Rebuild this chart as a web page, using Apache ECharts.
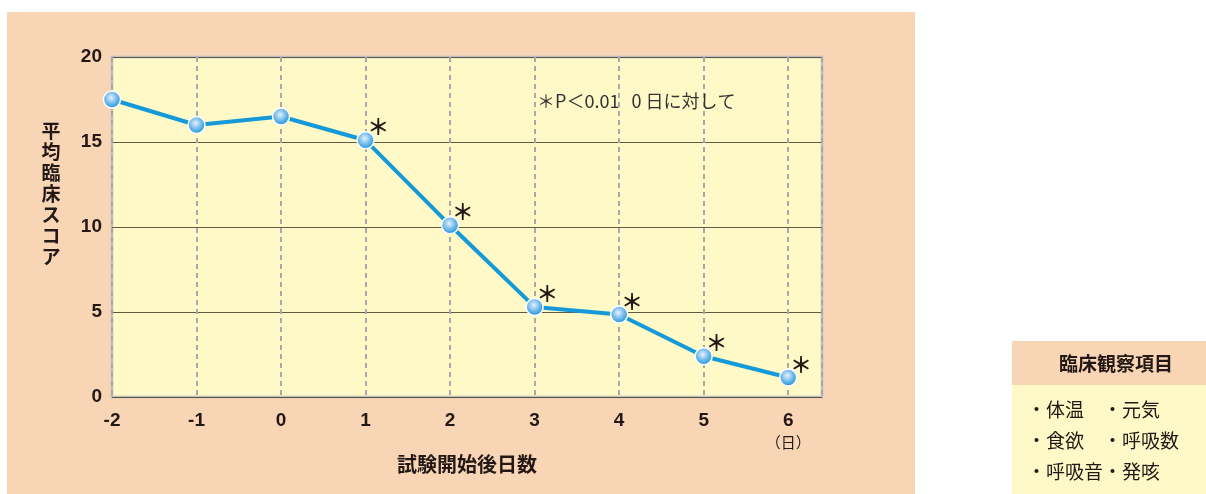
<!DOCTYPE html>
<html><head><meta charset="utf-8">
<script src="https://cdn.jsdelivr.net/npm/echarts@6/dist/echarts.min.js"></script>
<style>html,body{margin:0;padding:0;background:#fff}#c{width:1206px;height:494px}</style>
</head><body><div id="c"></div>
<script>
const days = [-2, -1, 0, 1, 2, 3, 4, 5, 6];
const meanScore = [17.5, 16.0, 16.5, 15.1, 10.1, 5.3, 4.85, 2.4, 1.15];
const significant = [false, false, false, true, true, true, true, true, true];
const yTicks = [0, 5, 10, 15, 20];
const yAxisTitle = '平均臨床スコア';
const xAxisTitle = '試験開始後日数';
const legendTitle = '臨床観察項目';
const legendItems = [['・体温', '・元気'], ['・食欲', '・呼吸数'], ['・呼吸音・発咳', '']];
const noteText = '＊P＜0.01   0 日に対して';

const FONT = '"Noto Sans CJK JP", "Noto Sans", sans-serif';
const NUMFONT = '"Liberation Sans", Arial, sans-serif';
const INK = '#231815';
const chart = echarts.init(document.getElementById('c'));

const legendChildren = [
  {type:'rect', shape:{x:1012,y:341,width:194,height:44}, style:{fill:'#F8D5B4'}},
  {type:'rect', shape:{x:1012,y:385,width:194,height:109}, style:{fill:'#FEF9C7'}},
  {type:'text', x:1116, y:364, style:{text:legendTitle, font:'bold 19px '+FONT, fill:INK, textAlign:'center', textVerticalAlign:'middle'}}
];
legendItems.forEach((row, i) => {
  row.forEach((t, j) => {
    if (!t) return;
    legendChildren.push({type:'text', x: j === 0 ? 1027 : 1103, y: 410 + i*31,
      style:{text:t, font:'19px '+FONT, fill:INK, textVerticalAlign:'middle'}});
  });
});

chart.setOption({
  animation:false,
  graphic:[
    {type:'rect', z:-10, shape:{x:7,y:12,width:908,height:482}, style:{fill:'#F8D5B4'}},
    {type:'text', z:10, x:537, y:101, style:{text:noteText, font:'18px '+FONT, fill:'#333', textVerticalAlign:'middle'}},
    {type:'text', z:10, x:51, y:194, style:{text:yAxisTitle.split('').join('\n'), font:'bold 19px '+FONT, lineHeight:21, fill:INK, textAlign:'center', textVerticalAlign:'middle'}}
  ].concat(legendChildren),
  grid:{left:112, right:384, top:57, bottom:97, show:true, backgroundColor:'#FEF9C7', borderColor:'#BDBDBD', borderWidth:2.5},
  xAxis:{
    type:'value', min:-2, max:6.4, interval:1,
    name:xAxisTitle, nameLocation:'middle', nameGap:50,
    nameTextStyle:{fontFamily:FONT, fontWeight:'bold', fontSize:20, color:INK},
    axisLine:{show:false}, axisTick:{show:false},
    axisLabel:{
      margin:14, fontFamily:NUMFONT, fontWeight:'bold', fontSize:19, color:INK, showMaxLabel:false,
      formatter:v => Number.isInteger(v) ? (v === 6 ? '6\n{u|（日）}' : String(v)) : '',
      rich:{u:{fontSize:15, fontWeight:'normal', color:INK, fontFamily:FONT, lineHeight:24}}
    },
    splitLine:{show:true, lineStyle:{color:'#A8A8A8', type:[5,4], width:2}}
  },
  yAxis:{
    type:'value', min:0, max:20, interval:5,
    axisLine:{show:false}, axisTick:{show:false},
    axisLabel:{margin:10, fontFamily:NUMFONT, fontWeight:'bold', fontSize:19, color:INK,
      formatter:v => yTicks.includes(v) ? String(v) : ''},
    splitLine:{show:true, lineStyle:{color:'#5E5A44', width:1}}
  },
  series:[{
    type:'line',
    data: days.map((d, i) => [d, meanScore[i]]),
    symbol:'circle', symbolSize:17,
    lineStyle:{color:'#149AD8', width:4},
    itemStyle:{
      color:{type:'radial', x:0.45, y:0.4, r:0.6, colorStops:[{offset:0,color:'#E4F1FB'},{offset:0.55,color:'#6DB8EA'},{offset:1,color:'#1591D6'}]},
      borderColor:'#fff', borderWidth:1.5
    },
    label:{
      show:true, position:[22,-4], align:'center', verticalAlign:'middle',
      fontFamily:FONT, fontSize:22, fontWeight:'bold', color:INK,
      formatter:p => significant[p.dataIndex] ? '＊' : ''
    },
    z:5
  }]
});
</script></body></html>
